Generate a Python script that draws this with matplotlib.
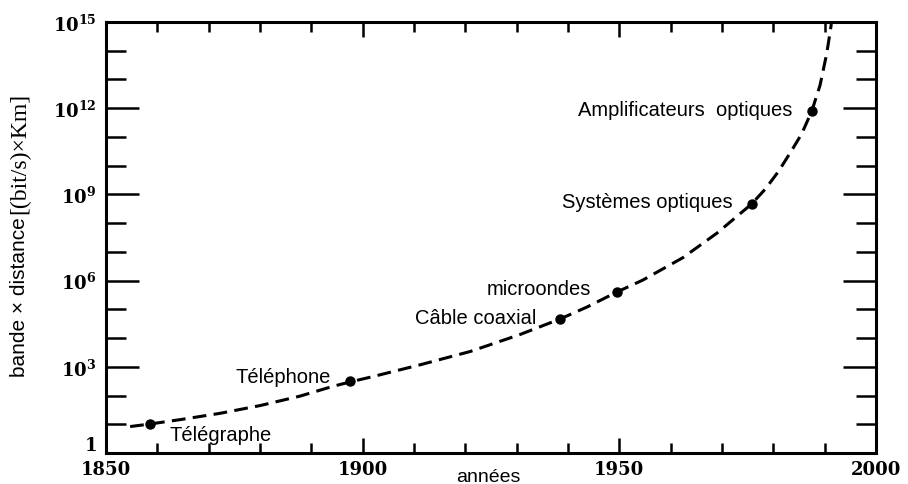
import matplotlib
matplotlib.use('Agg')
import matplotlib.pyplot as plt
import matplotlib.transforms as mtransforms
from matplotlib.ticker import FixedLocator, FixedFormatter, NullFormatter
import numpy as np

# courbe : année, log10(bande x distance)
curve_years = [1854.7, 1858.6, 1864.4, 1872.2, 1880.0, 1887.8, 1894.2, 1897.5,
               1902.0, 1911.2, 1920.9, 1930.6, 1938.4, 1943.7, 1949.5, 1954.6,
               1962.4, 1969.0, 1975.8, 1978.5, 1981.0, 1983.3, 1985.5, 1987.5,
               1989.1, 1990.4, 1991.3]
curve_log = [0.92, 1.01, 1.16, 1.38, 1.65, 1.98, 2.32, 2.47,
             2.66, 3.07, 3.53, 4.12, 4.66, 5.08, 5.60, 6.02,
             6.80, 7.65, 8.67, 9.20, 9.80, 10.45, 11.10, 11.90,
             12.80, 13.90, 14.93]

point_names = ['Télégraphe', 'Téléphone', 'Câble coaxial', 'microondes',
               'Systèmes optiques', 'Amplificateurs  optiques']
point_years = [1858.6, 1897.5, 1938.4, 1949.5, 1975.8, 1987.5]
point_log = [1.01, 2.51, 4.66, 5.60, 8.67, 11.90]

year_ticks = [1850, 1900, 1950, 2000]
year_minor = [y for y in range(1860, 2000, 10) if y not in year_ticks]
decade_ticks = [0, 3, 6, 9, 12, 15]
decade_minor = [d for d in range(1, 15) if d not in decade_ticks]

plt.rcParams['mathtext.fontset'] = 'dejavuserif'

fig = plt.figure(figsize=(9.08, 4.85), dpi=100)
ax = fig.add_axes([106/908, 1-454/485, 770/908, 431/485])

ax.plot(curve_years, 10.0**np.array(curve_log), color='black', lw=2.2,
        dashes=(4.5, 2.4), dash_capstyle='butt')
ax.plot(point_years, 10.0**np.array(point_log), 'o', color='black', ms=6.5)

ax.set_yscale('log')
ax.set_xlim(1850, 2000)
ax.set_ylim(1, 1e15)

ax.xaxis.set_major_locator(FixedLocator(year_ticks))
ax.xaxis.set_minor_locator(FixedLocator(year_minor))
ax.xaxis.set_major_formatter(FixedFormatter([str(y) for y in year_ticks]))
ax.yaxis.set_major_locator(FixedLocator([10.0**d for d in decade_ticks]))
ax.yaxis.set_minor_locator(FixedLocator([10.0**d for d in decade_minor]))
ax.yaxis.set_major_formatter(FixedFormatter(
    [r'$\mathbf{1}$'] + [r'$\mathbf{10^{%d}}$' % d for d in decade_ticks[1:]]))
ax.yaxis.set_minor_formatter(NullFormatter())

for s in ax.spines.values():
    s.set_linewidth(2.2)

ax.tick_params(axis='x', which='both', direction='in', top=True, width=1.8, pad=5)
ax.tick_params(axis='x', which='major', length=11)
ax.tick_params(axis='x', which='minor', length=7)
ax.tick_params(axis='y', which='both', direction='in', right=True, width=1.8, pad=7)
ax.tick_params(axis='y', which='major', length=24)
ax.tick_params(axis='y', which='minor', length=14.5)

for lab in ax.get_xticklabels():
    lab.set_fontfamily('DejaVu Serif')
    lab.set_fontweight('bold')
    lab.set_fontsize(13)
for lab in ax.get_yticklabels():
    lab.set_fontsize(13)

# le "1" est un peu au-dessus de l'axe pour ne pas toucher 1850
one = ax.yaxis.get_major_ticks()[0].label1
one.set_transform(one.get_transform() +
                  mtransforms.ScaledTranslation(0, 7/72, fig.dpi_scale_trans))

sans = 'Liberation Sans'
# étiquettes des points
ax.text(1862.3, 10**0.66, point_names[0], fontsize=14.5, family=sans, ha='left', va='center')
ax.text(1875.3, 10**2.65, point_names[1], fontsize=14.5, family=sans, ha='left', va='center')
ax.text(1910.2, 10**4.73, point_names[2], fontsize=14.5, family=sans, ha='left', va='center')
ax.text(1924.2, 10**5.74, point_names[3], fontsize=14.5, family=sans, ha='left', va='center')
ax.text(1972.1, 10**8.74, point_names[4], fontsize=14.5, family=sans, ha='right', va='center')
ax.text(1983.8, 10**11.97, point_names[5], fontsize=14.5, family=sans, ha='right', va='center')

fig.text(488/908, 1-478/485, 'années', fontsize=14, family=sans, ha='center', va='center')

# titre vertical en deux polices
t1 = fig.text(20/908, 1-377/485, 'bande × distance', fontsize=15, family=sans,
              rotation=90, ha='center', va='bottom')
fig.canvas.draw()
bb = t1.get_window_extent()
fig.text(20/908, (bb.y1 + 3)/485, '[(bit/s)×Km]', fontsize=17, family='Liberation Serif',
         rotation=90, ha='center', va='bottom')

fig.savefig('out.png', dpi=100)
